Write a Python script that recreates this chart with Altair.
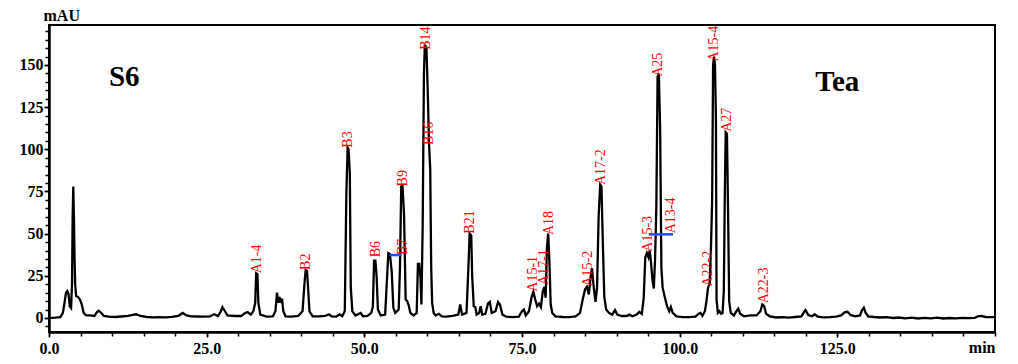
import altair as alt
import pandas as pd

# chromatogram trace (retention time in min, absorbance in mAU)
time_min = [
    0.0, 1.0, 1.8, 2.2, 2.5, 2.7, 2.9, 3.1, 3.3, 3.5, 3.65, 3.75, 3.85, 3.95, 4.05, 4.15, 4.3, 4.6, 4.9, 5.2,
    5.5, 5.9, 6.5, 7.2, 7.6, 7.9, 8.3, 8.7, 9.5, 10.5, 11.5, 12.5, 13.3, 13.8, 14.5, 15.5, 16.5, 17.5, 18.5, 19.5,
    20.5, 21.2, 21.8, 22.5, 23.5, 24.5, 25.5, 26.2, 26.8, 27.2, 27.5, 27.9, 28.3, 29.5, 30.5, 31.1, 31.5, 32.0, 32.4, 32.7,
    32.85, 33.05, 33.2, 33.5, 34.5, 35.5, 35.9, 36.15, 36.35, 36.55, 36.75, 36.95, 37.15, 37.5, 38.5, 39.5, 40.2, 40.5, 40.7, 40.9,
    41.05, 41.3, 41.8, 42.8, 43.8, 44.4, 44.8, 45.5, 46.1, 46.5, 46.9, 47.15, 47.35, 47.5, 47.7, 47.85, 48.1, 48.6, 49.4, 49.8,
    50.5, 51.1, 51.35, 51.55, 51.75, 51.95, 52.15, 52.6, 53.3, 53.55, 53.8, 54.05, 54.35, 54.6, 54.9, 55.45, 55.65, 55.85, 56.05, 56.3,
    56.55, 56.8, 57.0, 57.3, 57.8, 58.3, 58.5, 58.7, 58.9, 59.05, 59.25, 59.45, 59.6, 59.85, 60.05, 60.25, 60.45, 60.6, 60.75, 61.0,
    61.3, 61.8, 62.3, 63.0, 64.0, 64.9, 65.2, 65.5, 66.2, 66.5, 66.7, 66.95, 67.1, 67.35, 67.6, 67.8, 68.2, 68.45, 68.7, 69.2,
    69.6, 69.9, 70.2, 70.8, 71.2, 71.5, 71.9, 72.5, 73.5, 74.5, 75.0, 75.3, 75.6, 76.1, 76.5, 76.8, 77.1, 77.4, 77.7, 78.0,
    78.3, 78.55, 78.75, 78.95, 79.15, 79.35, 79.55, 79.8, 80.3, 81.5, 82.5, 83.5, 84.2, 84.6, 85.0, 85.3, 85.6, 85.9, 86.1, 86.35,
    86.65, 86.9, 87.15, 87.4, 87.6, 87.85, 88.05, 88.35, 88.8, 89.3, 89.75, 90.1, 90.8, 91.6, 92.0, 92.5, 93.2, 93.6, 94.0, 94.3,
    94.55, 94.8, 95.05, 95.25, 95.45, 95.7, 95.9, 96.1, 96.3, 96.5, 96.7, 96.9, 97.1, 97.3, 97.6, 98.0, 98.35, 98.6, 98.9, 99.5,
    100.5, 101.5, 102.5, 103.0, 103.3, 103.6, 104.0, 104.25, 104.5, 104.75, 104.95, 105.15, 105.3, 105.45, 105.6, 105.75, 105.85, 106.05, 106.3, 106.55,
    106.8, 107.0, 107.15, 107.3, 107.5, 107.7, 107.85, 108.1, 108.6, 109.0, 109.3, 109.6, 110.2, 111.2, 112.2, 112.8, 113.1, 113.4, 113.7, 114.3,
    115.3, 116.3, 117.3, 118.3, 119.3, 119.7, 119.95, 120.4, 121.0, 121.4, 121.9, 122.8, 123.8, 124.8, 125.6, 126.2, 126.6, 127.1, 127.8, 128.6,
    128.9, 129.2, 129.5, 129.9, 130.8, 131.8, 132.8, 133.8, 134.8, 135.8, 136.8, 137.8, 138.8, 139.8, 140.8, 141.8, 142.8, 143.8, 144.8, 145.8,
    146.8, 147.3, 147.8, 148.5, 149.2, 150.0,
]
absorbance_mau = [
    0.0, 0.2, 0.5, 3, 10, 15, 16, 14, 7, 6, 20, 60, 78, 60, 36, 20, 13, 12.5, 11, 8,
    3, 1.5, 1.5, 1.2, 3.5, 4.3, 3, 1.2, 0.8, 0.6, 0.9, 1.2, 1.8, 2.2, 1.2, 0.6, 0.4, 0.5, 0.4, 0.7,
    1.2, 3.0, 1.5, 1.0, 0.9, 0.8, 1.0, 2.2, 1.2, 3.5, 6.5, 4, 1.5, 1.2, 1.2, 3, 3.5, 2, 4, 9,
    26.5, 26, 9, 2, 0.8, 1.0, 4, 15, 9, 12.5, 9, 11.5, 4, 1.0, 0.8, 1.2, 4, 20, 28.5, 28,
    20, 4, 1.0, 1.0, 1.2, 2.2, 1.0, 0.8, 2.2, 1.0, 4, 74, 101, 100, 86, 18, 4, 1.5, 3.0, 1.0,
    1.2, 3, 6.7, 34, 34, 24.5, 5, 1.5, 2, 20, 38.5, 38, 27, 6, 3, 5, 30, 78, 78.5, 61,
    11, 10, 8, 3, 1.5, 3, 32, 32, 24, 8, 54, 145, 162, 160, 135, 104, 88, 30, 9, 3,
    1.5, 2.5, 1.0, 0.8, 1.2, 2, 8, 2, 3, 30, 50, 49, 25, 7, 6.5, 2, 3, 7, 2, 2.5,
    8.5, 9.5, 3, 4, 9.5, 8, 2, 0.8, 0.5, 0.8, 4, 5, 1.5, 4, 12, 15.5, 11, 7, 8.5, 6.5,
    16, 18.5, 12, 42, 50, 33, 8, 3, 1.0, 0.6, 0.5, 1.0, 3, 10.5, 17, 18.5, 14, 25, 29.5, 19,
    9.5, 18, 60, 79, 78, 40, 12.5, 5, 3, 2, 4.7, 2, 1.2, 1.2, 2, 1.0, 2, 3.7, 2.5, 12,
    36, 38.5, 36, 40, 33, 22, 17.5, 35, 66, 143, 145, 113, 30, 18, 13, 7, 4, 6.5, 3, 1.0,
    0.5, 0.5, 0.8, 2.5, 3, 1.2, 4, 10, 18, 20, 40, 70, 150, 155, 150, 118, 11, 3, 4, 2.5,
    3, 16, 71, 110, 109, 56, 10, 3, 1.5, 4, 5.5, 2.5, 1.0, 1.5, 1.5, 4, 8, 7, 2.5, 1.0,
    0.3, 0.5, 0.2, 0.6, 1.0, 3.5, 4.7, 1.8, 1.0, 2.2, 0.8, 0.4, 0.5, 0.8, 1.5, 3.5, 3.7, 1.8, 1.0, 1.5,
    4.5, 6.1, 3, 1.0, 0.6, 0.3, 0.5, 0.0, 0.3, -0.2, 0.2, -0.3, 0.1, -0.2, 0.2, -0.3, 0.0, -0.2, 0.1, -0.1,
    0.1, 1.0, 1.2, 0.6, 0.5, 0.5,
]

# peak annotations: name, retention time, height where the label starts
peak_names = ["A1-4", "B2", "B3", "B6", "B7", "B9", "B14", "B16", "B21", "A15-1", "A17-1",
              "A18", "A15-2", "A17-2", "A15-3", "A13-4", "A25", "A15-4", "A27", "A22-2", "A22-3"]
peak_times = [33.0, 40.7, 47.4, 51.8, 56.2, 56.1, 59.8, 60.3, 66.8, 76.8, 78.5,
              79.3, 85.4, 87.5, 94.9, 98.7, 96.6, 105.4, 107.5, 104.5, 113.3]
peak_label_base = [26.5, 28.5, 101, 36, 37.3, 78, 159, 102.5, 50, 15.6, 19.6,
                   49.2, 18.6, 78.8, 39.3, 50.2, 143, 152, 110.4, 18.6, 8.7]

# blue baseline segments
seg_start = [54.0, 95.1]
seg_end = [55.9, 98.95]
seg_level = [37.3, 49.6]

# panel captions
caption_text = ["S6", "Tea"]
caption_t = [9.5, 121.5]
caption_v = [137.5, 134.7]

# axis ticks
x_minor_ticks = list(range(0, 151, 5))
x_label_ticks = [0, 25, 50, 75, 100, 125]
y_minor_ticks = list(range(-5, 171, 5))
y_label_ticks = [0, 25, 50, 75, 100, 125, 150]

trace = pd.DataFrame({"t": time_min, "v": absorbance_mau})
peaks = pd.DataFrame({"name": peak_names, "t": peak_times, "v": peak_label_base})
segs = pd.DataFrame({"t": seg_start, "t2": seg_end, "v": seg_level})
caps = pd.DataFrame({"name": caption_text, "t": caption_t, "v": caption_v})

FONT = "Liberation Serif"
x_scale = alt.Scale(domain=[0, 150], nice=False, zero=False)
y_scale = alt.Scale(domain=[-8.3, 173.7], nice=False, zero=False)

# minor-tick axes (no labels) carry the titles
x_axis_minor = alt.Axis(
    values=x_minor_ticks, labels=False, orient="bottom",
    title="min", titleX=946, titleY=20, titleAlign="right", titleBaseline="alphabetic",
)
y_axis_minor = alt.Axis(
    values=y_minor_ticks, labels=False, orient="left",
    title="mAU", titleAngle=0, titleX=-6, titleY=-5, titleAlign="left", titleBaseline="alphabetic",
)
# labelled axes
x_axis_major = alt.Axis(values=x_label_ticks, format=".1f", orient="bottom", title=None,
                        labelFlush=False, labelOverlap=False, labelPadding=3, tickSize=5)
y_axis_major = alt.Axis(values=y_label_ticks, format="d", orient="left", title=None,
                        labelFlush=False, labelOverlap=False, labelPadding=1, tickSize=5)

line = alt.Chart(trace).mark_line(color="black", strokeWidth=2.3).encode(
    x=alt.X("t:Q", scale=x_scale, axis=x_axis_minor),
    y=alt.Y("v:Q", scale=y_scale, axis=y_axis_minor),
)

blue = alt.Chart(segs).mark_rule(color="#1f4fe6", strokeWidth=2.5).encode(
    x=alt.X("t:Q", scale=x_scale, axis=x_axis_major),
    x2="t2:Q",
    y=alt.Y("v:Q", scale=y_scale, axis=y_axis_major),
)

labels = alt.Chart(peaks).mark_text(
    angle=270, align="left", baseline="middle", color="#ff0000", font=FONT, fontSize=14
).encode(
    x=alt.X("t:Q", scale=x_scale, axis=None),
    y=alt.Y("v:Q", scale=y_scale, axis=None),
    text="name:N",
)

captions = alt.Chart(caps).mark_text(
    align="left", baseline="alphabetic", color="black", font=FONT, fontSize=29, fontWeight="bold"
).encode(
    x=alt.X("t:Q", scale=x_scale, axis=None),
    y=alt.Y("v:Q", scale=y_scale, axis=None),
    text="name:N",
)

chart = alt.layer(line, blue, labels, captions).resolve_axis(
    x="independent", y="independent"
).properties(
    width=946, height=307,
    autosize=alt.AutoSizeParams(type="none"),
    padding={"left": 41, "top": 17, "right": 15, "bottom": 24},
).configure_view(
    stroke="black", strokeWidth=2
).configure_axis(
    grid=False,
    labelFont=FONT, labelFontWeight="bold", labelFontSize=16, labelColor="black",
    titleFont=FONT, titleFontWeight="bold", titleFontSize=16, titleColor="black",
    domainColor="black", domainWidth=2, tickColor="black", tickWidth=1.5, tickSize=4,
)

chart.save("out.html", embed_options={"renderer": "svg", "actions": False})
